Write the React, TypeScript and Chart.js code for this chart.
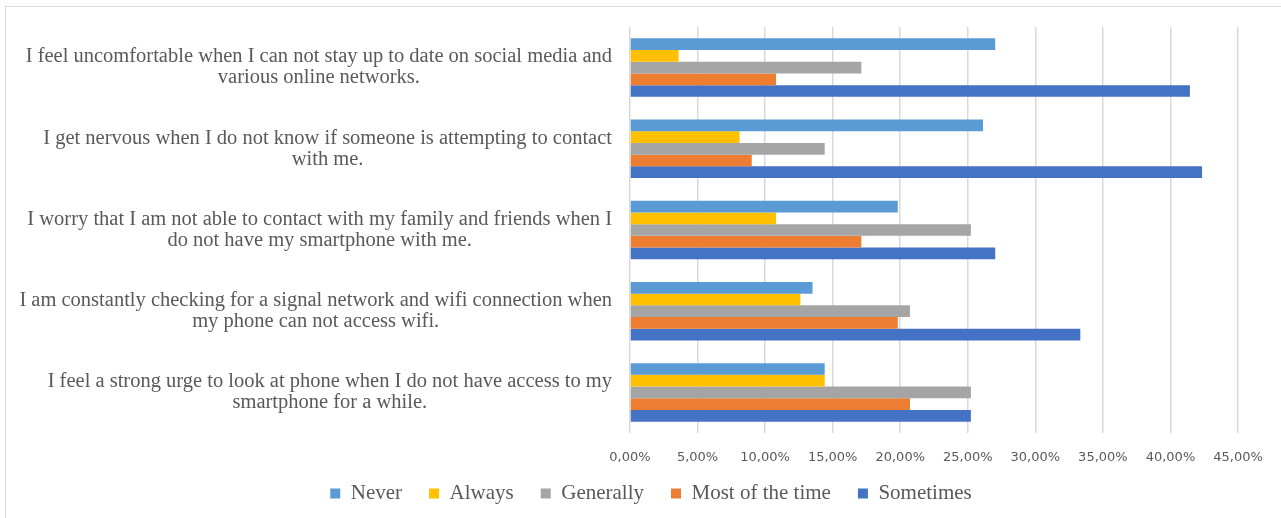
import React, { useEffect, useRef } from "react";
import { Chart, registerables } from "chart.js";

Chart.register(...registerables);

const categories: string[][] = [
  ["I feel uncomfortable when I can not stay up to date on social media and", "various online networks."],
  ["I get nervous when I do not know if someone is attempting to contact", "with me."],
  ["I worry that I am not able to contact with my family and friends when I", "do not have my smartphone with me."],
  ["I am constantly checking for a signal network and wifi connection when", "my phone can not access wifi."],
  ["I feel a strong urge to look at phone when I do not have access to my", "smartphone for a while."],
];

const seriesNames = ["Never", "Always", "Generally", "Most of the time", "Sometimes"];
const seriesColors = ["#5B9BD5", "#FFC000", "#A5A5A5", "#ED7D31", "#4472C4"];

const never = [27.03, 26.13, 19.82, 13.51, 14.41];
const always = [3.6, 8.11, 10.81, 12.61, 14.41];
const generally = [17.12, 14.41, 25.23, 20.72, 25.23];
const mostOfTheTime = [10.81, 9.01, 17.12, 19.82, 20.72];
const sometimes = [41.44, 42.34, 27.03, 33.33, 25.23];

const xMin = 0;
const xMax = 45;
const xStep = 5;

const TEXT_COLOR = "#595959";
const GRID_COLOR = "#d9d9d9";

const categoryLabelPlugin = {
  id: "categoryLabels",
  afterDraw(chart: any) {
    const ctx = chart.ctx;
    const yScale = chart.scales.y;
    ctx.save();
    ctx.font = '20.5px "Liberation Serif", "Times New Roman", serif';
    ctx.fillStyle = TEXT_COLOR;
    ctx.textBaseline = "middle";
    ctx.textAlign = "center";
    const right = yScale.right - 18;
    const lineGap = 21;
    categories.forEach((lines, i) => {
      const cy = yScale.getPixelForValue(i);
      const w = Math.max(...lines.map((l) => ctx.measureText(l).width));
      const cx = right - w / 2;
      lines.forEach((line, j) => {
        ctx.fillText(line, cx, cy + (j - (lines.length - 1) / 2) * lineGap);
      });
    });
    ctx.restore();
  },
};

// move the legend box so it is centred under the whole frame and sits just below the tick labels
const legendShiftPlugin = {
  id: "legendShift",
  afterLayout(chart: any) {
    const l = chart.legend;
    if (!l) return;
    l.left += 29;
    l.right += 29;
    l.top -= 11;
    l.bottom -= 11;
  },
};

export default function App() {
  const canvasRef = useRef<HTMLCanvasElement | null>(null);

  useEffect(() => {
    if (!canvasRef.current) return;
    const values = [never, always, generally, mostOfTheTime, sometimes];
    const chart = new Chart(canvasRef.current, {
      type: "bar",
      data: {
        labels: categories.map((c) => c.join(" ")),
        datasets: seriesNames.map((name, i) => ({
          label: name,
          data: values[i],
          backgroundColor: seriesColors[i],
          borderColor: seriesColors[i],
          borderWidth: 0,
          categoryPercentage: 0.72,
          barPercentage: 1.0,
        })),
      },
      options: {
        indexAxis: "y",
        responsive: false,
        animation: false,
        devicePixelRatio: 1,
        layout: { padding: { top: 20, right: 58, bottom: 2, left: 0 } },
        plugins: {
          tooltip: { enabled: false },
          legend: {
            position: "bottom",
            labels: {
              boxWidth: 10,
              boxHeight: 10,
              padding: 27,
              color: TEXT_COLOR,
              font: { family: '"Liberation Serif", "Times New Roman", serif', size: 21 },
            },
          },
        },
        scales: {
          x: {
            min: xMin,
            max: xMax,
            afterFit: (scale: any) => {
              scale.height = 34;
            },
            ticks: {
              stepSize: xStep,
              padding: 17,
              color: TEXT_COLOR,
              font: { family: '"DejaVu Sans", sans-serif', size: 13 },
              callback: (v: any) => Number(v).toFixed(2).replace(".", ",") + "%",
            },
            grid: { color: GRID_COLOR, lineWidth: 1.5, drawTicks: false },
            border: { display: false },
          },
          y: {
            afterFit: (scale: any) => {
              scale.width = 624;
            },
            ticks: { display: false },
            grid: { display: false, drawTicks: false },
            border: { display: false },
          },
        },
      },
      plugins: [categoryLabelPlugin, legendShiftPlugin],
    });
    return () => chart.destroy();
  }, []);

  return (
    <div
      style={{
        position: "fixed",
        left: 0,
        top: 0,
        width: 1281,
        height: 518,
        overflow: "hidden",
        background: "#ffffff",
      }}
    >
      <div
        style={{
          position: "absolute",
          left: 5,
          top: 6,
          width: 1290,
          height: 520,
          border: "1px solid #d9d9d9",
        }}
      >
        <canvas ref={canvasRef} width={1290} height={520} style={{ display: "block" }} />
      </div>
    </div>
  );
}
